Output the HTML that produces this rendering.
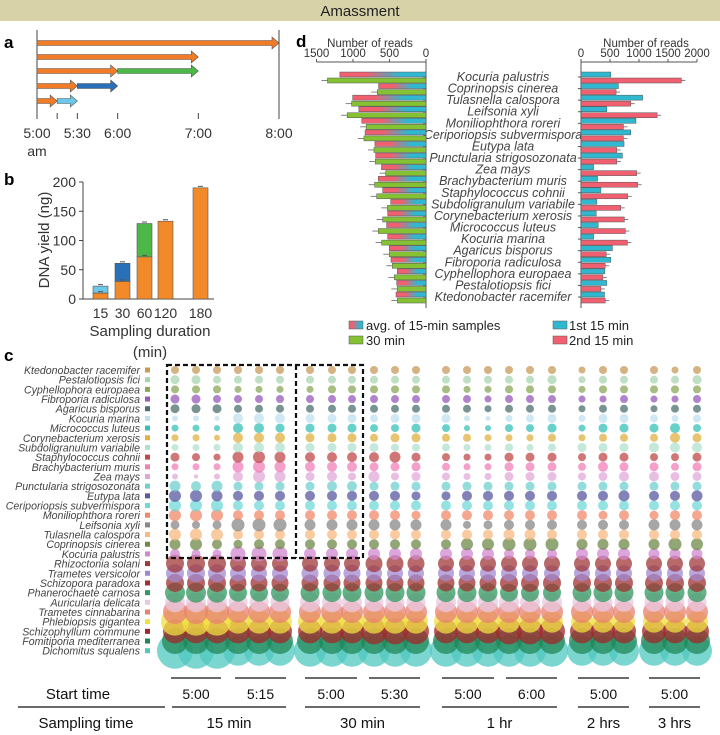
<!DOCTYPE html>
<html><head><meta charset="utf-8"><style>
body{margin:0;background:#fff;}
svg{display:block;font-family:"Liberation Sans",sans-serif;}
.it{font-style:italic;fill:#444;}
</style></head><body>
<svg id="fig" width="720" height="735" viewBox="0 0 720 735">
<defs>
<linearGradient id="avgGrad" x1="0" x2="1" y1="0" y2="0"><stop offset="0.2" stop-color="#f06070"/><stop offset="0.8" stop-color="#30b8d0"/></linearGradient>
<linearGradient id="avgGradL" x1="0" x2="1" y1="0" y2="0"><stop offset="0.3" stop-color="#f06070"/><stop offset="0.7" stop-color="#30b8d0"/></linearGradient>
</defs>
<rect x="0" y="0" width="720" height="21" fill="#d8d2a8"/>
<text x="360" y="16" text-anchor="middle" font-size="15" fill="#222">Amassment</text>
<text x="4" y="48" font-size="17" font-weight="bold">a</text>
<text x="4" y="185" font-size="17" font-weight="bold">b</text>
<text x="4" y="361" font-size="17" font-weight="bold">c</text>
<text x="296" y="47" font-size="17" font-weight="bold">d</text>
<g id="pa"></g>
<g id="pb"></g>
<g id="pc"></g>
<g id="pd"></g>
</svg>
<script>
// ---------- Panel a data ----------
const aSegStarts=[[0],[0],[0,60],[0,30],[0,15]];
const aSegEnds=[[180],[120],[60,120],[30,60],[15,30]];
const aSegColors=[["#f07c28"],["#f07c28"],["#f07c28","#4cb848"],["#f07c28","#2a70b8"],["#f07c28","#6cc8e8"]];
const aTickMins=[0,15,30,60,120,180];
const aTickLabels=["5:00","","5:30","6:00","7:00","8:00"];
// ---------- Panel b data ----------
const bCats=["15","30","60","120","180"];
const bBase=[10,30,72,133,190];
const bTop=[22,61,129,0,0];
const bTopColors=["#6cc8e8","#2a70b8","#4cb848","",""];
const bTicks=[0,50,100,150,200];
// ---------- Panel c data ----------
const cSpecies=["Ktedonobacter racemifer","Pestalotiopsis fici","Cyphellophora europaea","Fibroporia radiculosa","Agaricus bisporus","Kocuria marina","Micrococcus luteus","Corynebacterium xerosis","Subdoligranulum variabile","Staphylococcus cohnii","Brachybacterium muris","Zea mays","Punctularia strigosozonata","Eutypa lata","Ceriporiopsis subvermispora","Moniliophthora roreri","Leifsonia xyli","Tulasnella calospora","Coprinopsis cinerea","Kocuria palustris","Rhizoctonia solani","Trametes versicolor","Schizopora paradoxa","Phanerochaete carnosa","Auricularia delicata","Trametes cinnabarina","Phlebiopsis gigantea","Schizophyllum commune","Fomitiporia mediterranea","Dichomitus squalens"];
const cColors=["#c89a58","#a8d4b0","#88a858","#9858b8","#4e7070","#c0e0f0","#38c0b8","#e0b040","#b0e0cc","#c04848","#f080b8","#e0a8d8","#70d0d0","#5a58a0","#70d8d8","#f08868","#888888","#f8b880","#6e8848","#d088d0","#a03838","#a088d0","#a03030","#309860","#e8c8e0","#e88070","#f0e040","#a02828","#208858","#50c8c0"];
const cSizes=[
[4,4,4,4,4,4,4,4,4,4,4,4,4,4,4,4,4,4,3.5,4,4,4,3.5,4],
[4.5,4.5,4,4,4,4,4,4,4,4,4,4,4,4,4,4,4,4.5,3.5,4,4,4,4,4.5],
[4,4,4,3.5,3.5,3.5,3.5,4,4,4,4,4,4,3.5,3.5,4,4,4,3.5,4,4,4,4,4],
[4.5,4.5,4,4,4,4,4,4,4,4,4,4,4,4,3.5,4,4,4,3.5,3.5,4,3.5,3.5,4],
[4.5,4.5,4.5,4,4,4,4,4,4,4,4,4,4,4,3.5,4,4,4,3.5,4,4,3.5,4,4],
[3,3,2.5,5,5,5,4.5,4.5,4.5,4,4.5,4.5,4.5,3,2.5,3.5,4,4.5,3.5,4.5,4.5,4,3.5,4],
[3.5,3.5,3,5,5,4.5,4.5,4.5,4.5,4,4,4.5,4,3,3,4,4,4.5,3.5,4.5,4.5,4.5,5,4],
[3.5,3.5,3,5,5,5,4.5,4.5,4.5,4,4.5,4.5,4,4,3.5,3.5,3.5,4,3.5,4,4,4,5,4.5],
[3.5,3.5,3.5,5,5,5,4.5,4.5,4.5,4.5,4,4,4,3.5,3.5,4,3.5,4,4.5,4.5,4.5,5,5,5],
[4.5,4,3.5,5.5,6,5.5,5,5,5,5,5.5,4.5,4,3.5,3.5,4.5,4.5,4.5,4,4.5,4.5,4,4,4.5],
[3.5,3.5,3.5,5.5,6,5.5,5,5,5,4.5,4.5,4.5,4,3.5,3.5,4.5,4.5,4.5,4,5,4.5,4.5,4,4.5],
[3,2,3,5,6,5.5,4.5,5,4,5.5,4,4.5,4,3.5,3.5,4.5,4.5,4.5,4,4.5,5,5,4.5,4.5],
[5.5,5,5.5,4.5,4.5,4.5,4.5,5,5,4.5,4.5,4.5,4.5,4.5,4.5,4.5,4.5,4.5,4.5,4.5,4.5,4.5,4.5,4.5],
[6,6,5.5,5,5,5,5,5,5,5,5,4.5,4.5,5,5,5,5,5,5,5,5.5,5,5,5.5],
[6,6,6,5,5,5,5,5,5,5,5,5,5,5,5,5,5,5,5,5,5,5,5,5],
[6,6,6,5,5,5,5,5,5,5,5,4.5,5,5,5,5,5,5,5,4.5,5,4.5,5,5],
[4.5,4,4.5,6.5,6.5,6.5,5.5,5.5,5.5,5.5,5.5,5.5,5.5,4,4.5,5,5,5,5,5,5,5.5,5.5,5.5],
[6,6,6,5,5,5,5,5,5,5,5,5,5,5,5,5.5,5.5,5,5,5,5,5,5,5],
[5.5,6,5,4.5,5,5,5,5,5,5,5,5,5,6,6,6.5,6.5,6.5,5.5,5.5,5.5,5.5,6.5,6],
[5,4.5,4.5,7.5,7.5,7.5,6,6,6,6,6,6,6,6,6,5,5,5,6,6,6,5.5,5.5,5.5],
[9,9,9,8,8,8,8,8,8,8.5,8.5,8.5,8,8,8,8,8,8,8,8,8,8,8,8],
[9,9,9,8,8,8,8.5,8.5,8.5,8,8,8,8,8,8,8,8,8,8,8,8,8,8,8],
[9,9,9,8.5,8.5,8.5,8.5,8.5,8.5,8.5,8.5,8.5,8.5,8.5,8.5,9,9,9,9,9,9,9,9,9],
[10,10,10,9,9,9,9.5,9.5,9.5,9.5,9.5,9.5,9.5,9.5,9.5,9,9,9,9.5,9.5,9.5,9.5,9.5,9.5],
[10,10,10,9.5,9.5,9.5,10,10,10,9.5,9.5,9.5,10,10,10,10,10,10,9.5,9.5,9.5,9.5,9.5,9.5],
[12,12,12,11,11,11,11,11,11,11,11,11,11,11,11,11,11,11,11,11,11,11,11,11],
[14,14,14,12,12,12,12,12,12,12,12,12,12,12,12,11,11,11,11,11,11,11,11,11],
[12,12,12,12,12,12,12,12,12,13,13,13,12,12,12,13,13,13,12,12,12,12,12,12],
[13,13,13,13,13,13,13,13,13,13,13,13,13,13,13,13,13,13,13,13,13,13,13,13],
[18,18,18,15,15,15,16,16,16,16,16,16,16,16,16,16,16,16,15,15,15,15,15,15]];
const cStartLabels=["5:00","5:15","5:00","5:30","5:00","6:00","5:00","5:00"];
const cGroupLabels=["15 min","30 min","1 hr","2 hrs","3 hrs"];
// ---------- Panel d data ----------
const dSpecies=["Kocuria palustris","Coprinopsis cinerea","Tulasnella calospora","Leifsonia xyli","Moniliophthora roreri","Ceriporiopsis subvermispora","Eutypa lata","Punctularia strigosozonata","Zea mays","Brachybacterium muris","Staphylococcus cohnii","Subdoligranulum variabile","Corynebacterium xerosis","Micrococcus luteus","Kocuria marina","Agaricus bisporus","Fibroporia radiculosa","Cyphellophora europaea","Pestalotiopsis fici","Ktedonobacter racemifer"];
const dAvg15=[1180,650,1005,920,880,835,700,690,610,653,594,484,525,540,525,503,480,393,402,411];
const d30=[1350,667,1020,1080,820,850,713,695,553,704,676,530,594,653,608,503,462,434,393,393];
const dFirst=[514,645,1062,445,948,857,742,714,217,285,343,274,263,297,217,542,514,411,445,405];
const dSecond=[1730,605,857,1313,731,731,617,617,960,976,805,685,748,765,800,434,417,377,343,417];
const dLeftTicks=[0,500,1000,1500];
const dRightTicks=[0,500,1000,1500,2000];

const NS="http://www.w3.org/2000/svg";
function mk(parent,tag,attrs,txt){const e=document.createElementNS(NS,tag);for(const k in attrs)e.setAttribute(k,attrs[k]);if(txt!==undefined)e.textContent=txt;parent.appendChild(e);return e;}

// ===== Panel a =====
(function(){
const g=document.getElementById('pa');
const xA=m=>37+m*(242/180);
const rowsY=[43,57,71,86,101];
mk(g,'line',{x1:37,y1:30,x2:37,y2:118,stroke:'#444','stroke-width':1});
mk(g,'line',{x1:279,y1:30,x2:279,y2:118,stroke:'#444','stroke-width':1});
aTickMins.forEach((m,i)=>{
 const t=mk(g,'line',{x1:xA(m),y1:113,x2:xA(m),y2:119,stroke:'#444','stroke-width':1});
 
 
 if(aTickLabels[i]){const l=mk(g,'text',{x:xA(m),y:138,'font-size':14,'text-anchor':'middle',fill:'#333'},aTickLabels[i]);
 
 }
});
mk(g,'text',{x:37,y:156,'font-size':14,'text-anchor':'middle',fill:'#333'},'am');
aSegStarts.forEach((segs,r)=>{
 segs.forEach((s,j)=>{
  const x0=xA(s),x1=xA(aSegEnds[r][j]),y=rowsY[r],hw=7;
  const p=mk(g,'polygon',{points:`${x0},${y-2.5} ${x1-hw},${y-2.5} ${x1-hw},${y-6} ${x1},${y} ${x1-hw},${y+6} ${x1-hw},${y+2.5} ${x0},${y+2.5}`,fill:aSegColors[r][j],stroke:'#555','stroke-width':0.6});
  
  
 });
});
})();

// ===== Panel b =====
(function(){
const g=document.getElementById('pb');
const yB=v=>299-v*(117/200);
const bx=[93,115,137,158,193];
mk(g,'line',{x1:83,y1:182,x2:83,y2:299,stroke:'#444'});
mk(g,'line',{x1:83,y1:299,x2:214,y2:299,stroke:'#444'});
bTicks.forEach(t=>{
 mk(g,'line',{x1:79,y1:yB(t),x2:83,y2:yB(t),stroke:'#444'});
 const l=mk(g,'text',{x:76,y:yB(t)+5,'font-size':14,'text-anchor':'end',fill:'#333'},String(t));
 
 
});
bCats.forEach((c,i)=>{
 if(bTop[i]){const r=mk(g,'rect',{x:bx[i],y:yB(bTop[i]),width:15,height:yB(bBase[i])-yB(bTop[i]),fill:bTopColors[i],stroke:'#555','stroke-width':0.6});
 
 
 mk(g,'line',{x1:bx[i]+5,y1:yB(bTop[i])-1.5,x2:bx[i]+10,y2:yB(bTop[i])-1.5,stroke:'#555'});}
 const b=mk(g,'rect',{x:bx[i],y:yB(bBase[i]),width:15,height:299-yB(bBase[i]),fill:'#f28a2a',stroke:'#555','stroke-width':0.6});
 
 
 mk(g,'line',{x1:bx[i]+5,y1:yB(bBase[i])-1.5,x2:bx[i]+10,y2:yB(bBase[i])-1.5,stroke:'#555'});
 const l=mk(g,'text',{x:bx[i]+7.5,y:318,'font-size':14,'text-anchor':'middle',fill:'#333'},c);
 
 
});
mk(g,'text',{x:0,y:0,'font-size':15,'text-anchor':'middle',fill:'#333',transform:'translate(49,240) rotate(-90)'},'DNA yield (ng)');
mk(g,'text',{x:150,y:336,'font-size':15,'text-anchor':'middle',fill:'#333'},'Sampling duration');
mk(g,'text',{x:150,y:357,'font-size':15,'text-anchor':'middle',fill:'#333'},'(min)');
})();

// ===== Panel c =====
(function(){
const g=document.getElementById('pc');
const colX=[175,196,217,238,259,280,310,332,352,374,395,416,446,467,488,509,530,552,582,603,624,654,675,697];
const yC=i=>370+i*9.68;
cSpecies.forEach((s,i)=>{
 const l=mk(g,'text',{x:140,y:yC(i)+4,'font-size':10.6,'text-anchor':'end',class:'it'},s);
 
 
 mk(g,'rect',{x:145,y:yC(i)-2.5,width:5,height:5,fill:cColors[i]});
});
for(let i=cSpecies.length-1;i>=0;i--){
 cSizes[i].forEach((r,j)=>{
  const c=mk(g,'circle',{cx:colX[j],cy:yC(i),r:r,fill:cColors[i],'fill-opacity':0.75});
  
  
 });
}
mk(g,'path',{d:'M167,365 H363 V558 H167 Z M296,365 V558',fill:'none',stroke:'#111','stroke-width':2.2,'stroke-dasharray':'5,3'});
const startSeg=[[171,221],[235,286],[305,357],[369,420],[442,494],[506,557],[578,629],[649,700]];
startSeg.forEach((s,i)=>{
 mk(g,'line',{x1:s[0],y1:678,x2:s[1],y2:678,stroke:'#111','stroke-width':1.3});
 const t=mk(g,'text',{x:(s[0]+s[1])/2,y:699,'font-size':14,'text-anchor':'middle',fill:'#111'},cStartLabels[i]);
 
 
});
const grpSeg=[[172,286],[305,420],[442,557],[578,629],[649,700]];
mk(g,'line',{x1:18,y1:707,x2:165,y2:707,stroke:'#111','stroke-width':1.3});
grpSeg.forEach((s,i)=>{
 mk(g,'line',{x1:s[0],y1:707,x2:s[1],y2:707,stroke:'#111','stroke-width':1.3});
 const t=mk(g,'text',{x:(s[0]+s[1])/2,y:728,'font-size':15,'text-anchor':'middle',fill:'#111'},cGroupLabels[i]);
 
 
});
mk(g,'text',{x:78,y:699,'font-size':15,'text-anchor':'middle',fill:'#111'},'Start time');
mk(g,'text',{x:86,y:728,'font-size':15,'text-anchor':'middle',fill:'#111'},'Sampling time');
})();

// ===== Panel d =====
(function(){
const g=document.getElementById('pd');
const xL=v=>426-v*(109.5/1500);
const xR=v=>581+v*(116/2000);
const yD=i=>77+i*11.58;
const axY=62;
mk(g,'text',{x:370,y:47,'font-size':11.5,'text-anchor':'middle',fill:'#333'},'Number of reads');
mk(g,'text',{x:646,y:47,'font-size':11.5,'text-anchor':'middle',fill:'#333'},'Number of reads');
mk(g,'line',{x1:xL(1500),y1:axY,x2:426,y2:axY,stroke:'#555'});
mk(g,'line',{x1:426,y1:axY,x2:426,y2:308,stroke:'#555'});
mk(g,'line',{x1:581,y1:axY,x2:xR(2000),y2:axY,stroke:'#555'});
mk(g,'line',{x1:581,y1:axY,x2:581,y2:308,stroke:'#555'});
dLeftTicks.forEach(t=>{
 mk(g,'line',{x1:xL(t),y1:axY-3,x2:xL(t),y2:axY,stroke:'#555'});
 const l=mk(g,'text',{x:xL(t),y:axY-5,'font-size':11.5,'text-anchor':'middle',fill:'#333'},String(t));
 
 
});
dRightTicks.forEach(t=>{
 mk(g,'line',{x1:xR(t),y1:axY-3,x2:xR(t),y2:axY,stroke:'#555'});
 const l=mk(g,'text',{x:xR(t),y:axY-5,'font-size':11.5,'text-anchor':'middle',fill:'#333'},String(t));
 
 
});
dSpecies.forEach((s,i)=>{
 const y=yD(i);
 const l=mk(g,'text',{x:503,y:y+4,'font-size':12.5,'text-anchor':'middle',class:'it'},s);
 
 
 mk(g,'line',{x1:423,y1:y,x2:426,y2:y,stroke:'#555'});
 mk(g,'line',{x1:578,y1:y,x2:581,y2:y,stroke:'#555'});
 const a=mk(g,'rect',{x:xL(dAvg15[i]),y:y-5,width:426-xL(dAvg15[i]),height:5,fill:'url(#avgGradL)',stroke:'#555','stroke-width':0.5});
 
 
 const b=mk(g,'rect',{x:xL(d30[i]),y:y+1,width:426-xL(d30[i]),height:5,fill:'#84c234',stroke:'#555','stroke-width':0.5});
 
 
 const c=mk(g,'rect',{x:581,y:y-5,width:xR(dFirst[i])-581,height:5,fill:'#30b8d0',stroke:'#555','stroke-width':0.5});
 
 
 const d=mk(g,'rect',{x:581,y:y+1,width:xR(dSecond[i])-581,height:5,fill:'#f06070',stroke:'#555','stroke-width':0.5});
 
 
 mk(g,'line',{x1:xL(d30[i])-6,y1:y+3.5,x2:xL(d30[i]),y2:y+3.5,stroke:'#666','stroke-width':0.8});
 mk(g,'line',{x1:xR(dSecond[i]),y1:y+3.5,x2:xR(dSecond[i])+4,y2:y+3.5,stroke:'#666','stroke-width':0.8});
});
// legend
mk(g,'rect',{x:349,y:321,width:14,height:8,fill:'url(#avgGrad)',stroke:'#555','stroke-width':0.5});
mk(g,'text',{x:366,y:330,'font-size':13,fill:'#222'},'avg. of 15-min samples');
mk(g,'rect',{x:349,y:336,width:14,height:8,fill:'#84c234',stroke:'#555','stroke-width':0.5});
mk(g,'text',{x:366,y:345,'font-size':13,fill:'#222'},'30 min');
mk(g,'rect',{x:553,y:321,width:14,height:8,fill:'#30b8d0',stroke:'#555','stroke-width':0.5});
mk(g,'text',{x:569,y:330,'font-size':13,fill:'#222'},'1st 15 min');
mk(g,'rect',{x:553,y:336,width:14,height:8,fill:'#f06070',stroke:'#555','stroke-width':0.5});
mk(g,'text',{x:569,y:345,'font-size':13,fill:'#222'},'2nd 15 min');
})();
</script>
</body></html>
